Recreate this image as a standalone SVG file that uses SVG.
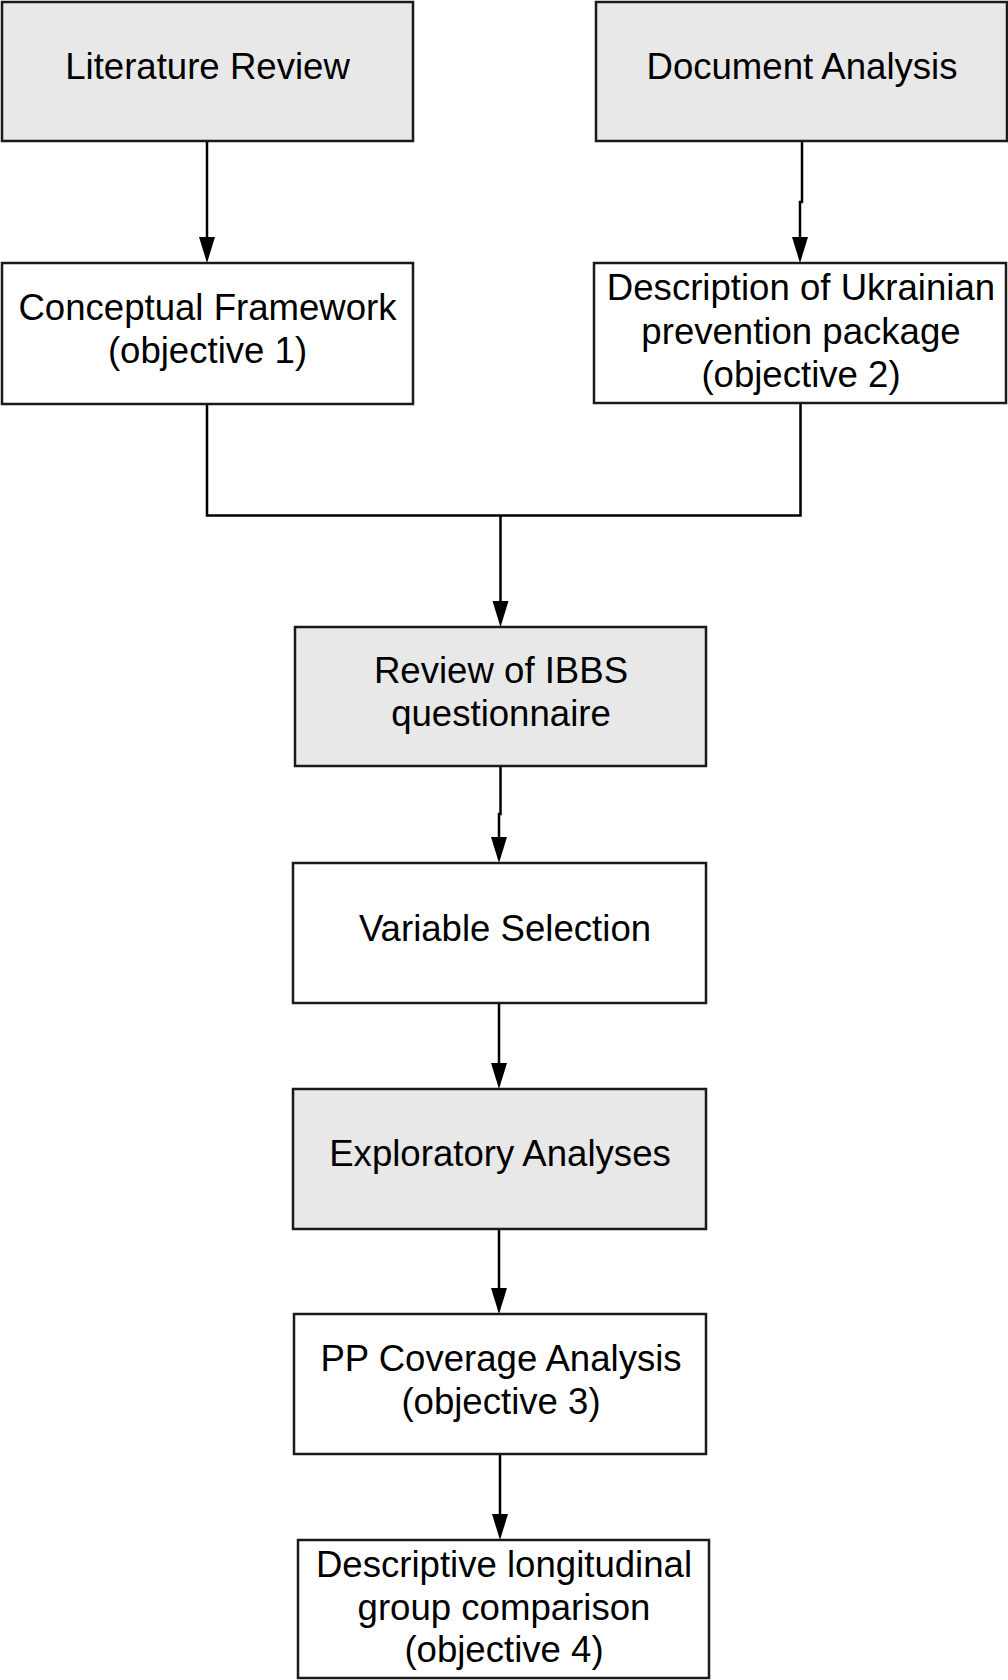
<svg xmlns="http://www.w3.org/2000/svg" width="1008" height="1680" viewBox="0 0 1008 1680">
<defs>
<style>
.box{stroke:#1a1a1a;stroke-width:2.5}
.g{fill:#e8e8e8}
.w{fill:#ffffff}
text{font-family:"Liberation Sans",Arial,sans-serif;font-size:36.6px;fill:#000;text-anchor:middle}
.c{fill:none;stroke:#000;stroke-width:2.5}
</style>
</defs>
<rect width="1008" height="1680" fill="#fff"/>
<g id="connectors">
<path class="c" d="M207,141 V238"/>
<path d="M199,237 L215,237 L207,263 Z"/>
<path class="c" d="M802,141 V202 H800 V238"/>
<path d="M792,237 L808,237 L800,263 Z"/>
<path class="c" d="M207,404 V515.5 H800.5 V403"/>
<path class="c" d="M500.5,515.5 V602"/>
<path d="M492.5,601 L508.5,601 L500.5,627 Z"/>
<path class="c" d="M500.5,766 V814 H499 V838"/>
<path d="M491,837 L507,837 L499,863 Z"/>
<path class="c" d="M499,1003 V1064"/>
<path d="M491,1063 L507,1063 L499,1089 Z"/>
<path class="c" d="M499,1229 V1289"/>
<path d="M491,1288 L507,1288 L499,1314 Z"/>
<path class="c" d="M500,1454 V1515"/>
<path d="M492,1514 L508,1514 L500,1540 Z"/>
</g>
<g id="literature-review">
<rect class="box g" x="2" y="2" width="411" height="139"/>
<text x="207.5" y="79">Literature Review</text>
</g>
<g id="document-analysis">
<rect class="box g" x="596" y="2" width="411" height="139"/>
<text x="802" y="79">Document Analysis</text>
</g>
<g id="conceptual-framework">
<rect class="box w" x="2" y="263" width="411" height="141"/>
<text x="207.5" y="320">Conceptual Framework</text>
<text x="207.5" y="363">(objective 1)</text>
</g>
<g id="description">
<rect class="box w" x="594" y="263" width="412" height="140"/>
<text x="801" y="300">Description of Ukrainian</text>
<text x="801" y="344">prevention package</text>
<text x="801" y="387">(objective 2)</text>
</g>
<g id="review-ibbs">
<rect class="box g" x="295" y="627" width="411" height="139"/>
<text x="501" y="683">Review of IBBS</text>
<text x="501" y="726">questionnaire</text>
</g>
<g id="variable-selection">
<rect class="box w" x="293" y="863" width="413" height="140"/>
<text x="505" y="941">Variable Selection</text>
</g>
<g id="exploratory-analyses">
<rect class="box g" x="293" y="1089" width="413" height="140"/>
<text x="500" y="1166">Exploratory Analyses</text>
</g>
<g id="pp-coverage">
<rect class="box w" x="294" y="1314" width="412" height="140"/>
<text x="501" y="1371">PP Coverage Analysis</text>
<text x="501" y="1414">(objective 3)</text>
</g>
<g id="descriptive-longitudinal">
<rect class="box w" x="298" y="1540" width="411" height="138"/>
<text x="504" y="1577">Descriptive longitudinal</text>
<text x="504" y="1620">group comparison</text>
<text x="504" y="1662">(objective 4)</text>
</g>
</svg>
